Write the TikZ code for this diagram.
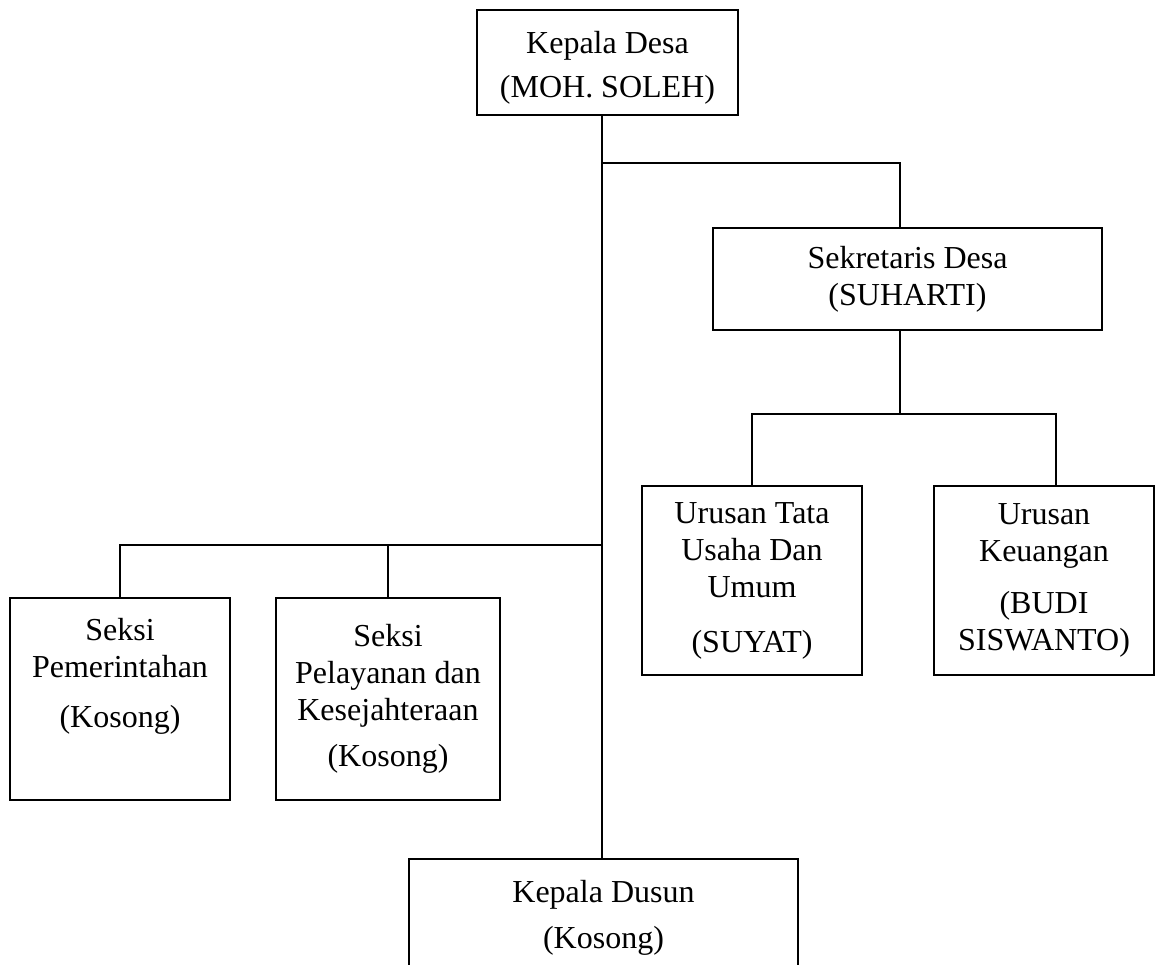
\documentclass[tikz,border=0pt]{standalone}
\usepackage{fontspec}
\setmainfont{Liberation Serif}
\usepackage{tikz}
\usetikzlibrary{calc,positioning}

\begin{document}
\begin{tikzpicture}[x=0.5pt,y=-0.5pt,line width=1pt,font=\fontsize{16}{18.5}\selectfont,box/.style={draw,line width=1.1pt,inner sep=0pt,align=center}]
	\clip (0,0) rectangle (1156,964);

	\node (kades) at (607.5,62.5) [box,minimum width=130.5pt,minimum height=52.5pt] {\rule{0pt}{16pt}Kepala Desa\\[3.5pt](MOH. SOLEH)};
	\node (sekdes) at (907.5,279) [box,minimum width=194.5pt,minimum height=51pt] {Sekretaris Desa\\(SUHARTI)};
	\node (tata) at (752,580.5) [box,minimum width=110pt,minimum height=94.5pt] {Urusan Tata\\Usaha Dan\\Umum\\[9pt](SUYAT)};
	\node (keu) at (1044,580.5) [box,minimum width=110pt,minimum height=94.5pt] {Urusan\\Keuangan\\[7.5pt](BUDI\\SISWANTO)};
	\node (pem) at (120,699) [box,minimum width=110pt,minimum height=101pt] {Seksi\\Pemerintahan\\[6.5pt](Kosong)\\[8pt]\mbox{}};
	\node (pel) at (388,699) [box,minimum width=112pt,minimum height=101pt] {Seksi\\Pelayanan dan\\Kesejahteraan\\[4.5pt](Kosong)};
	\node (kadus) at (603.5,918) [box,minimum width=194.5pt,minimum height=59pt] {Kepala Dusun\\[4.5pt](Kosong)};

	\coordinate (j1) at (602,163);
	\coordinate (j2) at (602,545);
	\coordinate (j3) at (900,414);

	% garis utama
	\draw (kades.south -| j1) -- (kadus.north -| j1);
	\draw (j1) -| (sekdes.north -| j3);
	\draw (sekdes.south -| j3) -- (j3);
	\draw (tata.north) |- (j3) -| ([xshift=6pt]keu.north);
	\draw (pem.north) |- (j2);
	\draw (pel.north) -- (pel.north |- j2);
\end{tikzpicture}
\end{document}
